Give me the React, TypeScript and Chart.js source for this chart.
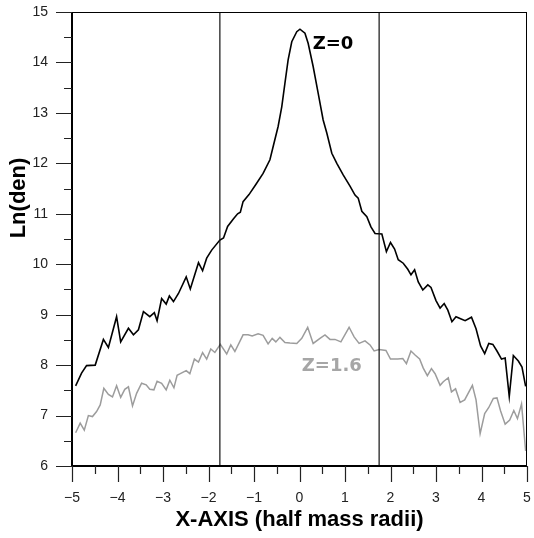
import { useEffect, useRef } from "react";
import { Chart, registerables } from "chart.js";

Chart.register(...registerables);

// Density profile at redshift 0 (black)
const zeroX = [
  -4.92, -4.79, -4.68, -4.49, -4.31, -4.2, -4.02, -3.93, -3.76, -3.65,
  -3.54, -3.43, -3.29, -3.19, -3.13, -3.03, -2.93, -2.86, -2.77, -2.66,
  -2.49, -2.4, -2.22, -2.13, -2.04, -1.93, -1.75, -1.67, -1.58, -1.45,
  -1.36, -1.3, -1.24, -1.11, -0.96, -0.8, -0.65, -0.58, -0.47, -0.39,
  -0.32, -0.25, -0.17, -0.06, 0.01, 0.12, 0.19, 0.3, 0.41, 0.52,
  0.6, 0.71, 0.82, 0.96, 1.11, 1.22, 1.29, 1.37, 1.48, 1.57,
  1.66, 1.81, 1.91, 2.0, 2.09, 2.17, 2.28, 2.38, 2.45, 2.53,
  2.61, 2.71, 2.82, 2.89, 3.0, 3.09, 3.18, 3.26, 3.35, 3.44,
  3.54, 3.64, 3.78, 3.88, 3.98, 4.07, 4.16, 4.25, 4.34, 4.44,
  4.52, 4.61, 4.7, 4.81, 4.89, 4.97,
];
const zeroY = [
  7.59, 7.84, 7.99, 8.0, 8.51, 8.35, 8.96, 8.46, 8.73, 8.6,
  8.7, 9.06, 8.96, 9.04, 8.88, 9.32, 9.21, 9.37, 9.26, 9.42,
  9.75, 9.51, 10.03, 9.87, 10.12, 10.28, 10.48, 10.52, 10.75, 10.9,
  11.0, 11.03, 11.24, 11.38, 11.58, 11.8, 12.07, 12.33, 12.73, 13.12,
  13.59, 14.05, 14.41, 14.61, 14.66, 14.58, 14.38, 13.92, 13.39, 12.86,
  12.6, 12.2, 12.0, 11.77, 11.55, 11.37, 11.31, 11.05, 10.94, 10.74,
  10.61, 10.6, 10.25, 10.43, 10.3, 10.09, 10.02, 9.9, 9.79, 9.89,
  9.65, 9.49, 9.59, 9.54, 9.28, 9.13, 9.22, 9.09, 8.86, 8.96,
  8.92, 8.88, 8.95, 8.72, 8.38, 8.23, 8.43, 8.41, 8.28, 8.12,
  8.14, 7.38, 8.19, 8.08, 7.96, 7.58,
];

// Density profile at redshift 1.6 (grey)
const highX = [
  -4.92, -4.82, -4.73, -4.64, -4.55, -4.46, -4.38, -4.3, -4.2, -4.11,
  -4.02, -3.93, -3.84, -3.76, -3.67, -3.58, -3.47, -3.37, -3.29, -3.2,
  -3.13, -3.03, -2.93, -2.85, -2.76, -2.69, -2.62, -2.49, -2.41, -2.31,
  -2.22, -2.13, -2.04, -1.95, -1.86, -1.74, -1.6, -1.51, -1.42, -1.24,
  -1.13, -1.04, -0.91, -0.8, -0.69, -0.6, -0.52, -0.43, -0.32, -0.21,
  -0.06, 0.05, 0.18, 0.3, 0.45, 0.56, 0.67, 0.78, 0.91,
  1.09, 1.2, 1.31, 1.44, 1.55, 1.64, 1.75, 1.9, 2.0, 2.16,
  2.27, 2.35, 2.45, 2.54, 2.64, 2.72, 2.81, 2.9, 2.98, 3.09,
  3.16, 3.27, 3.34, 3.43, 3.53, 3.63, 3.8, 3.88, 3.97, 4.07,
  4.16, 4.26, 4.34, 4.42, 4.52, 4.62, 4.71, 4.79, 4.88, 4.97,
];
const highY = [
  6.66, 6.85, 6.71, 7.0, 6.98, 7.08, 7.21, 7.54, 7.42, 7.37,
  7.59, 7.36, 7.52, 7.57, 7.19, 7.44, 7.64, 7.61, 7.52, 7.51,
  7.68, 7.64, 7.51, 7.7, 7.55, 7.8, 7.83, 7.89, 7.83, 8.12,
  8.06, 8.25, 8.12, 8.32, 8.25, 8.41, 8.22, 8.4, 8.27, 8.6,
  8.6, 8.58, 8.62, 8.59, 8.42, 8.53, 8.46, 8.55, 8.45, 8.44,
  8.43, 8.53, 8.75, 8.43, 8.53, 8.6, 8.51, 8.51, 8.46,
  8.75, 8.56, 8.43, 8.48, 8.4, 8.28, 8.31, 8.29, 8.12, 8.12,
  8.13, 8.03, 8.28, 8.2, 8.12, 7.94, 7.79, 7.93, 7.83, 7.6,
  7.67, 7.75, 7.47, 7.53, 7.26, 7.31, 7.6, 7.31, 6.64, 7.04,
  7.16, 7.34, 7.35, 7.09, 6.83, 6.91, 7.1, 6.94, 7.23, 6.3,
];

// Half-mass boundaries marked by vertical lines
const boundaryX = [-1.75, 1.75];

const xRange = [-5, 5];
const yRange = [6, 15];

const xTitle = "X-AXIS (half mass radii)";
const yTitle = "Ln(den)";
const zeroLabel = "Z=0";
const highLabel = "Z=1.6";

const toPoints = (xs: number[], ys: number[]) =>
  xs.map((x, i) => ({ x, y: ys[i] }));

const fmt = (v: number) => (v < 0 ? "\u2212" + Math.abs(v) : String(v));

// Frame, half-step tick marks, axis titles and curve labels
const decorations = {
  id: "decorations",
  afterDraw(chart: any) {
    const { ctx, chartArea: a, scales } = chart;
    const xs = scales.x;
    const ys = scales.y;
    ctx.save();

    // thin top/right border
    ctx.strokeStyle = "#000";
    ctx.lineWidth = 1;
    ctx.beginPath();
    ctx.moveTo(a.left, a.top + 0.5);
    ctx.lineTo(a.right, a.top + 0.5);
    ctx.moveTo(a.right - 0.5, a.top);
    ctx.lineTo(a.right - 0.5, a.bottom);
    ctx.stroke();

    // heavier left/bottom axes
    ctx.lineWidth = 2;
    ctx.beginPath();
    ctx.moveTo(a.left, a.top);
    ctx.lineTo(a.left, a.bottom + 1);
    ctx.moveTo(a.left - 1, a.bottom);
    ctx.lineTo(a.right, a.bottom);
    ctx.stroke();

    // tick marks: long at integers, short at halves
    ctx.lineWidth = 1.2;
    ctx.strokeStyle = "#222";
    ctx.beginPath();
    for (let v = xs.min; v <= xs.max + 1e-9; v += 0.5) {
      const p = Math.round(xs.getPixelForValue(v)) + 0.5;
      const len = Number.isInteger(v) ? 16 : 8;
      ctx.moveTo(p, a.bottom);
      ctx.lineTo(p, a.bottom + len);
    }
    for (let v = ys.min; v <= ys.max + 1e-9; v += 0.5) {
      const p = Math.round(ys.getPixelForValue(v)) + 0.5;
      const len = Number.isInteger(v) ? 16 : 8;
      ctx.moveTo(a.left, p);
      ctx.lineTo(a.left - len, p);
    }
    ctx.stroke();

    // axis titles
    ctx.fillStyle = "#000";
    ctx.font = 'bold 22px "Liberation Sans", Arial, sans-serif';
    ctx.textAlign = "center";
    ctx.textBaseline = "middle";
    ctx.fillText(xTitle, (a.left + a.right) / 2, 520);
    ctx.save();
    ctx.translate(19, 198);
    ctx.rotate(-Math.PI / 2);
    ctx.fillText(yTitle, 0, 0);
    ctx.restore();

    // curve labels
    ctx.font = 'bold 18px "DejaVu Sans", sans-serif';
    ctx.textAlign = "left";
    ctx.fillStyle = "#000";
    ctx.fillText(zeroLabel, xs.getPixelForValue(0.29), ys.getPixelForValue(14.35));
    ctx.textAlign = "center";
    ctx.fillStyle = "#a6a6a6";
    ctx.fillText(highLabel, xs.getPixelForValue(0.71), ys.getPixelForValue(7.98));

    ctx.restore();
  },
};

// Tick marks are drawn by the plugin; the scale's own tick length is kept
// invisible and only serves as the gap between axis and labels.
const hiddenTickGrid = {
  display: true,
  drawOnChartArea: false,
  drawTicks: true,
  tickLength: 24,
  tickColor: "rgba(0,0,0,0)",
};

export default function App() {
  const ref = useRef<HTMLCanvasElement | null>(null);

  useEffect(() => {
    if (!ref.current) return;
    const boundarySets = boundaryX.map((bx) => ({
      data: [
        { x: bx, y: yRange[0] },
        { x: bx, y: yRange[1] },
      ],
      borderColor: "#111",
      borderWidth: 1.2,
      pointRadius: 0,
      tension: 0,
    }));

    const tickFont = { family: '"Liberation Sans", Arial, sans-serif', size: 14 };

    const chart = new Chart(ref.current, {
      type: "line",
      data: {
        datasets: [
          ...boundarySets,
          {
            data: toPoints(highX, highY),
            borderColor: "#9c9c9c",
            borderWidth: 1.5,
            pointRadius: 0,
            tension: 0,
          },
          {
            data: toPoints(zeroX, zeroY),
            borderColor: "#000",
            borderWidth: 1.6,
            pointRadius: 0,
            tension: 0,
          },
        ],
      },
      options: {
        responsive: false,
        animation: false,
        events: [],
        layout: { padding: { left: 0, top: 12, right: 7, bottom: 0 } },
        plugins: {
          legend: { display: false },
          tooltip: { enabled: false },
        },
        scales: {
          x: {
            type: "linear",
            min: xRange[0],
            max: xRange[1],
            grid: hiddenTickGrid,
            border: { display: false },
            ticks: {
              stepSize: 1,
              padding: 0,
              color: "#222",
              font: tickFont,
              callback: (v: any) => fmt(Number(v)),
              maxRotation: 0,
              autoSkip: false,
            },
            afterFit: (s: any) => {
              s.height = 72;
            },
          },
          y: {
            type: "linear",
            min: yRange[0],
            max: yRange[1],
            grid: hiddenTickGrid,
            border: { display: false },
            ticks: {
              stepSize: 1,
              padding: 0,
              color: "#222",
              font: tickFont,
              callback: (v: any) => fmt(Number(v)),
              autoSkip: false,
            },
            afterFit: (s: any) => {
              s.width = 72;
            },
          },
        },
      },
      plugins: [decorations],
    });
    return () => chart.destroy();
  }, []);

  return (
    <div style={{ position: "fixed", left: 0, top: 0, width: 534, height: 538, background: "#fff" }}>
      <canvas ref={ref} width={534} height={538} />
    </div>
  );
}
